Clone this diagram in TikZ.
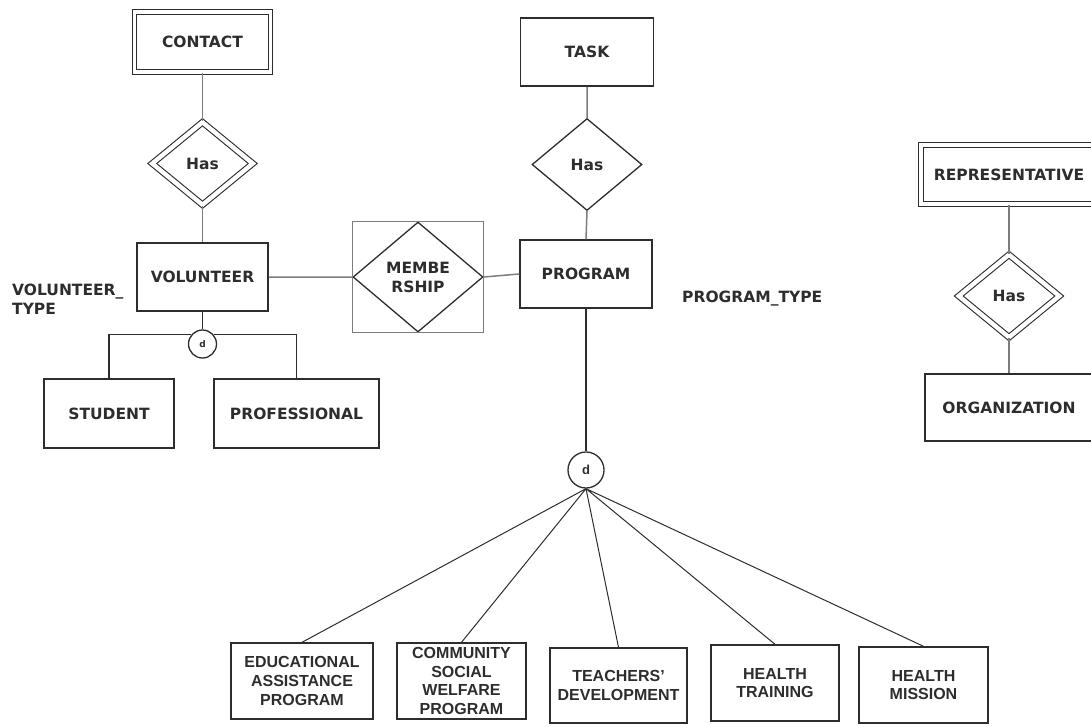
\documentclass[tikz,border=0pt]{standalone}
\usepackage{fontspec}
\setmainfont{DejaVu Sans}
\newfontfamily\arialfont{Liberation Sans}
\usetikzlibrary{shapes.geometric}
\definecolor{inkgray}{RGB}{45,45,45}
\definecolor{linkgray}{RGB}{125,125,125}

\begin{document}
\begin{tikzpicture}[x=1pt, y=-1pt,
    every node/.style={font=\fontsize{15.5}{19}\selectfont\bfseries, text=inkgray, inner sep=0pt},
    entity/.style={draw=inkgray, line width=1.5pt, minimum height=68pt},
    weakentity/.style={draw=inkgray, line width=1.1pt, double=white, double distance=3.4pt},
    rel/.style={diamond, draw=inkgray, line width=1.3pt, minimum width=110pt, minimum height=92pt},
    weakrel/.style={diamond, draw=inkgray, line width=1.1pt, double=white, double distance=4.4pt, minimum width=101pt, minimum height=83pt},
    subtype/.style={draw=inkgray, line width=1.4pt, minimum height=76pt, align=center, font=\arialfont\fontsize{16}{18.7}\selectfont\bfseries},
    disjoint/.style={circle, draw=inkgray, line width=1.3pt, fill=white},
    link/.style={draw=linkgray, line width=1.5pt},
    sublink/.style={draw=inkgray, line width=1pt}]
    \useasboundingbox (0,0) rectangle (1091,726);
    \clip (0,0) rectangle (1091,726);
    % volunteer side
    \node[weakentity, minimum width=136pt, minimum height=60pt] (contact) at (202.5,42) {CONTACT};
    \node[weakrel] (hasc) at (202.5,163.5) {Has};
    \node[entity, minimum width=131pt] (volunteer) at (202.5,277) {VOLUNTEER};
    \node[anchor=west, align=left] (vtype) at (12,299) {VOLUNTEER\_\\TYPE};
    \node[disjoint, minimum size=28pt, font=\fontsize{9}{10}\selectfont\bfseries] (dv) at (202.5,344) {d};
    \node[entity, minimum width=130pt, minimum height=69pt] (student) at (109,413.5) {STUDENT};
    \node[entity, minimum width=165pt, minimum height=69pt] (professional) at (296.5,413.5) {PROFESSIONAL};
    % aggregation
    \node[diamond, draw=inkgray, line width=1.3pt, minimum width=130pt, minimum height=110pt, align=center] (memb) at (418,277) {MEMBE\\RSHIP};
    \draw[link, line width=1.3pt] (memb.west |- memb.north) rectangle (memb.east |- memb.south);
    % program side
    \node[entity, minimum width=133pt] (task) at (587,52) {TASK};
    \node[rel] (hast) at (587,164.5) {Has};
    \node[entity, minimum width=132pt] (program) at (586,274) {PROGRAM};
    \node[anchor=west] (ptype) at (682,299) {PROGRAM\_TYPE};
    \node[disjoint, minimum size=36pt, font=\arialfont\fontsize{13}{14}\selectfont\bfseries] (dp) at (586,470) {d};
    \node[subtype, minimum width=142pt] (edu) at (302,681) {EDUCATIONAL\\ASSISTANCE\\PROGRAM};
    \node[subtype, minimum width=129pt] (comm) at (461.5,681) {COMMUNITY\\SOCIAL\\WELFARE\\PROGRAM};
    \node[subtype, minimum width=137pt, minimum height=75pt] (teach) at (618.5,685.5) {TEACHERS’\\DEVELOPMENT};
    \node[subtype, minimum width=128pt] (htrain) at (775,683) {HEALTH\\TRAINING};
    \node[subtype, minimum width=129pt] (hmiss) at (923.5,685) {HEALTH\\MISSION};
    % organization side
    \node[weakentity, minimum width=176pt, minimum height=59pt] (repr) at (1009,174.5) {REPRESENTATIVE};
    \node[weakrel] (hasr) at (1009,296) {Has};
    \node[entity, minimum width=168pt, minimum height=67pt] (org) at (1009,407.5) {ORGANIZATION};
    % connectors
    \draw[link] (contact.south) -- (hasc.north) (hasc.south) -- (volunteer.north);
    \draw[link] (volunteer.east) -- (memb.west) (memb.east) -- (program.west);
    \draw[link] (task.south) -- (hast.north) (hast.south) -- (program.north);
    \draw[link] (repr.south) -- (hasr.north) (hasr.south) -- (org.north);
    \draw[sublink, line width=1.5pt] (volunteer.south) -- (dv.north);
    \draw[sublink, line width=1.5pt] (student.north) |- (dv.140) (dv.40) -| (professional.north);
    \draw[sublink, line width=1.5pt] (program.south) -- (dp.north);
    \draw[sublink] (dp.south) -- (edu.north) (dp.south) -- (comm.north) (dp.south) -- (teach.north) (dp.south) -- (htrain.north) (dp.south) -- (hmiss.north);
\end{tikzpicture}
\end{document}
